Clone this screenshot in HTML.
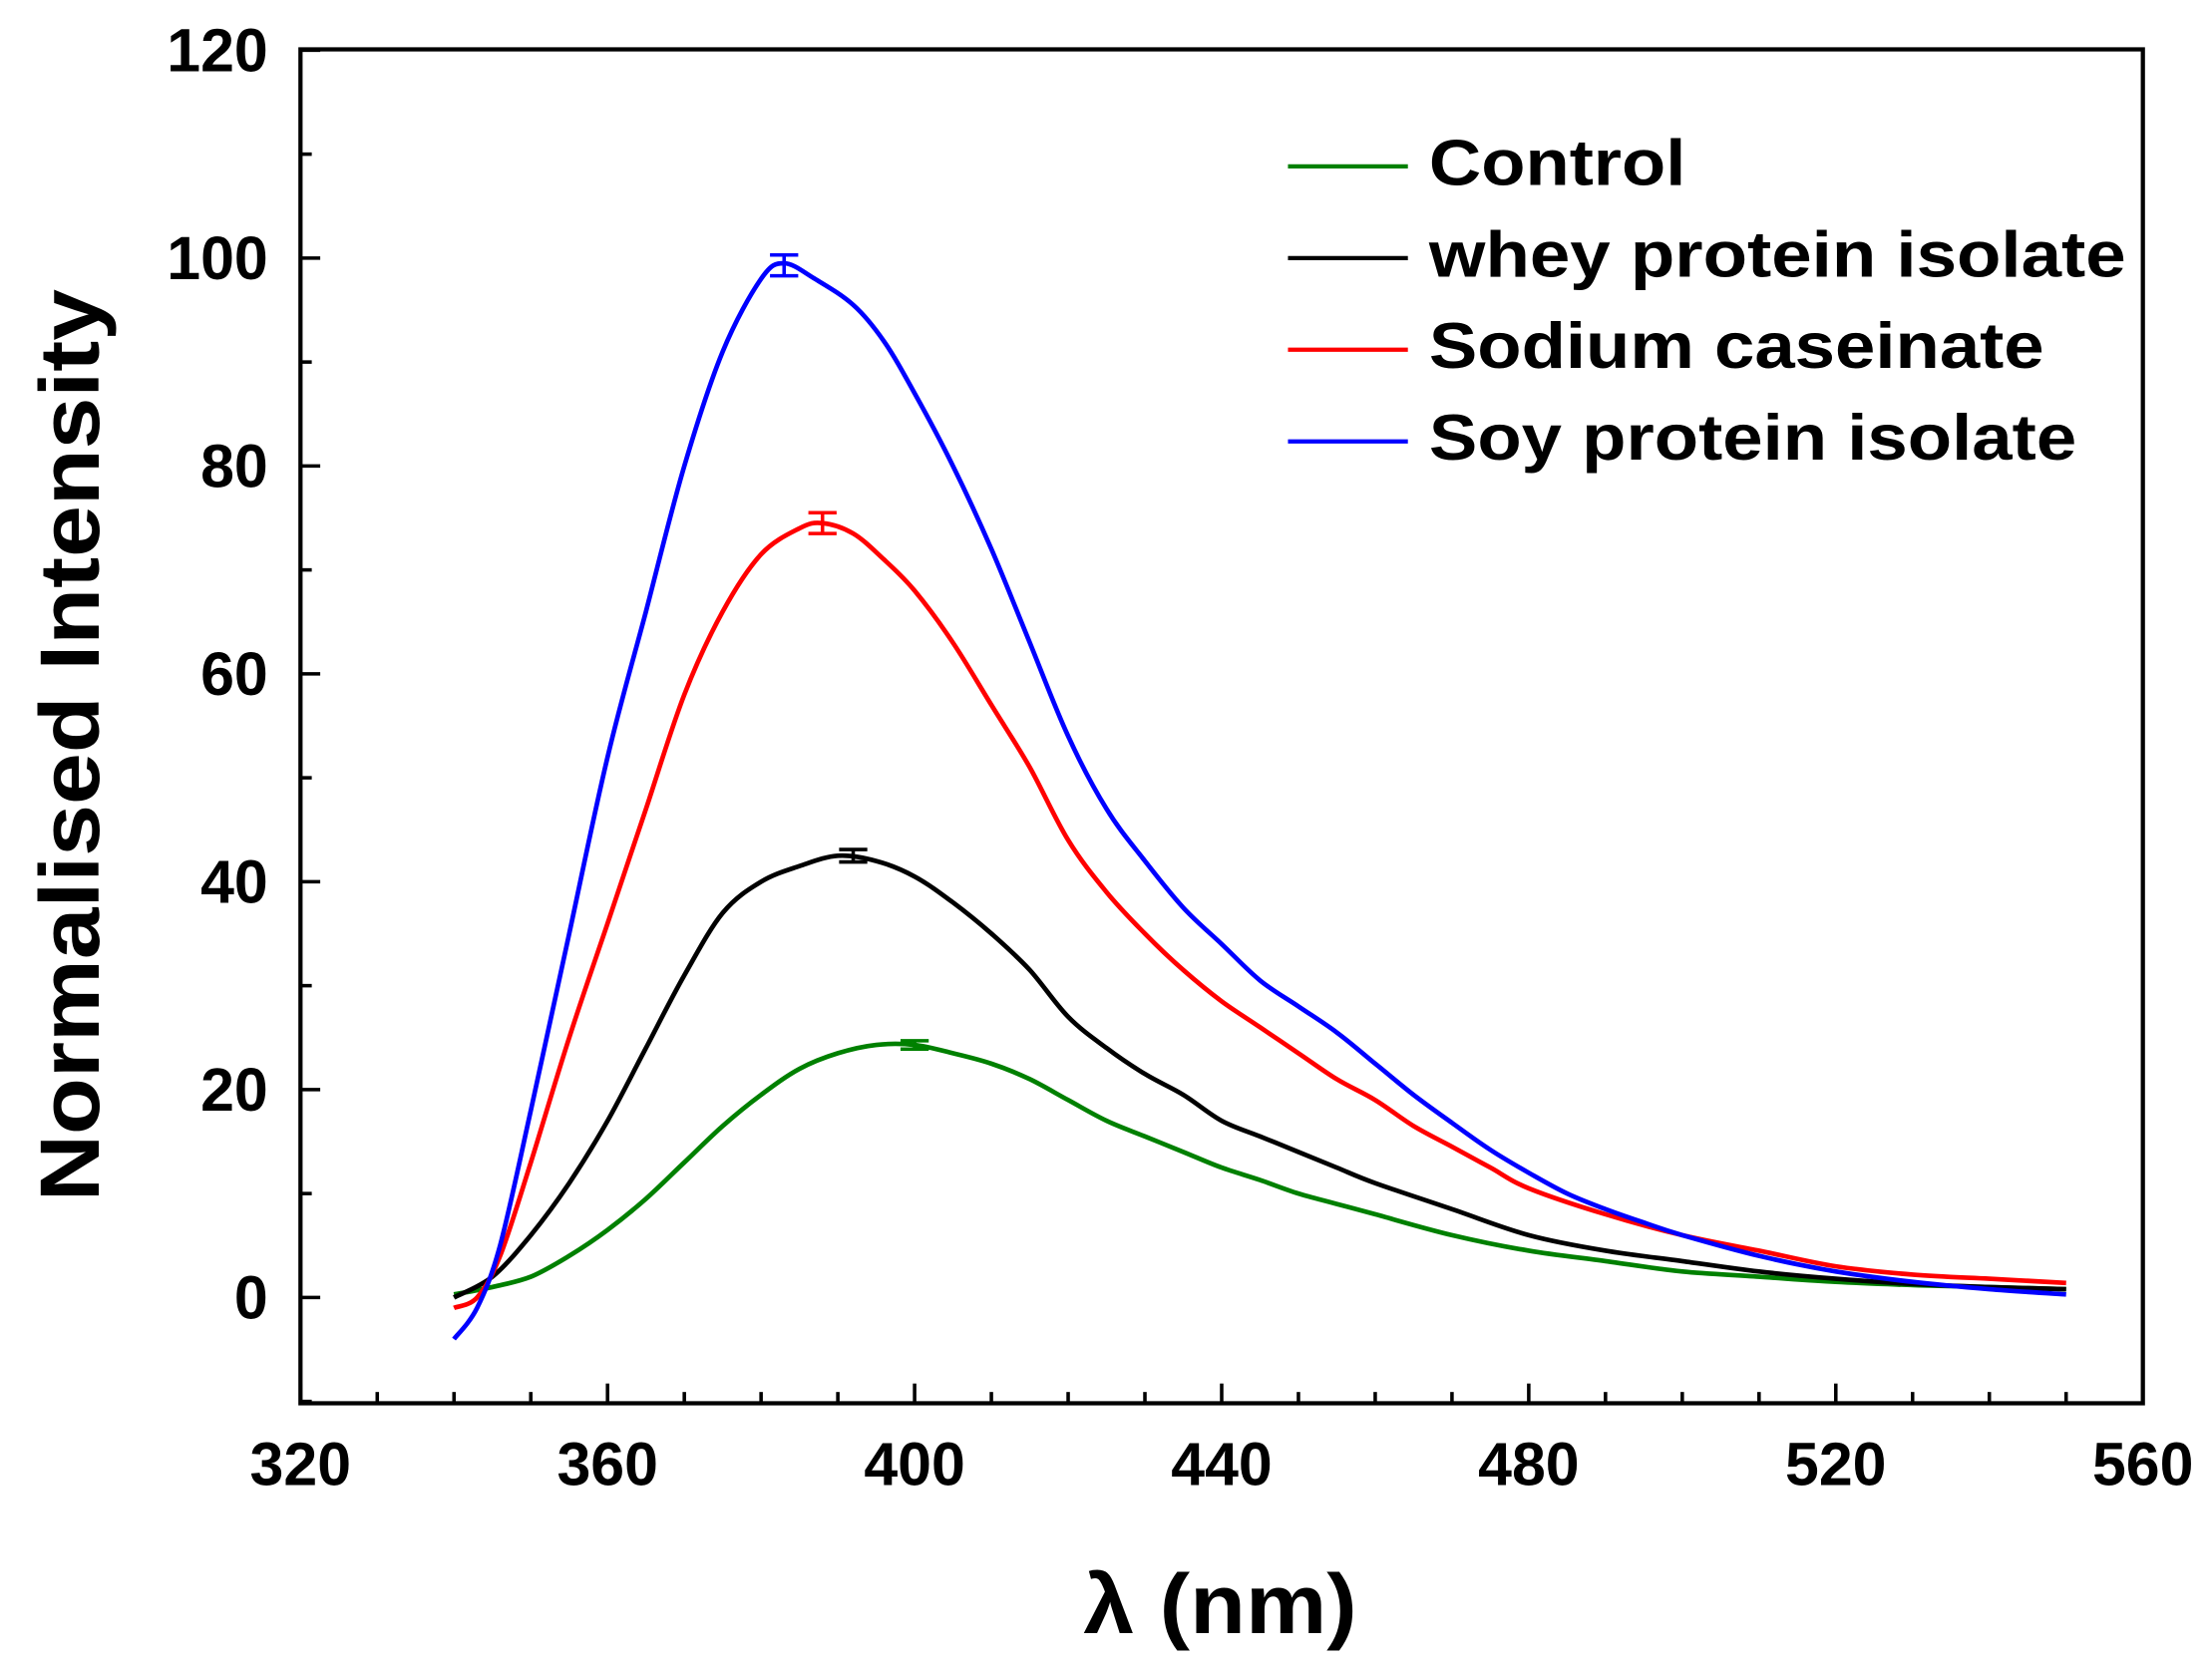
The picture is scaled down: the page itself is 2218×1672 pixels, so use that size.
<!DOCTYPE html>
<html><head><meta charset="utf-8"><style>
html,body{margin:0;padding:0;background:#fff;}
svg{display:block;}
text{font-family:"Liberation Sans",Arial,sans-serif;font-weight:bold;fill:#000;}
</style></head><body>
<svg id="s" width="2218" height="1672" viewBox="0 0 1568 1182" preserveAspectRatio="none" xmlns="http://www.w3.org/2000/svg">
<rect x="213" y="35" width="1306" height="960" fill="none" stroke="#000" stroke-width="3"/>
<g id="ticks" stroke="#000" stroke-width="2.5"></g>
<g id="labels" font-size="43"></g>
<text x="768" y="1158" font-size="60" textLength="194" lengthAdjust="spacingAndGlyphs">λ (nm)</text>
<text transform="translate(70,852) rotate(-90)" font-size="60" textLength="647" lengthAdjust="spacingAndGlyphs">Normalised Intensity</text>
<g id="curves" fill="none" stroke-width="3.3"></g>
<g font-size="46">
<line x1="913" y1="118" x2="998" y2="118" stroke="#008000" stroke-width="3"/><text x="1013" y="131" textLength="182" lengthAdjust="spacingAndGlyphs">Control</text>
<line x1="913" y1="183" x2="998" y2="183" stroke="#000" stroke-width="3"/><text x="1013" y="196" textLength="494" lengthAdjust="spacingAndGlyphs">whey protein isolate</text>
<line x1="913" y1="248" x2="998" y2="248" stroke="#ff0000" stroke-width="3"/><text x="1013" y="261" textLength="436" lengthAdjust="spacingAndGlyphs">Sodium caseinate</text>
<line x1="913" y1="313" x2="998" y2="313" stroke="#0000ff" stroke-width="3"/><text x="1013" y="326" textLength="459" lengthAdjust="spacingAndGlyphs">Soy protein isolate</text>
</g>
</svg>
<script>
var X=function(v){return 213+(v-320)*1306/240;};
var Y=function(v){return 920-v*7.37;};
var ns="http://www.w3.org/2000/svg";
function el(p,t,a){var e=document.createElementNS(ns,t);for(var k in a)e.setAttribute(k,a[k]);p.appendChild(e);return e;}
var tk=document.getElementById("ticks"),lb=document.getElementById("labels");
for(var v=320;v<=560;v+=10){var maj=v%40==0,x=X(v);el(tk,"line",{x1:x,x2:x,y1:995,y2:995-(maj?14:8)});
 if(maj){var t=el(lb,"text",{x:x,y:1053,"text-anchor":"middle"});t.textContent=v;}}
for(var v=-10;v<=120;v+=10){var maj=v%20==0&&v>=0,y=Y(v);el(tk,"line",{x1:213,x2:213+(maj?14:8),y1:y,y2:y});
 if(maj){var t=el(lb,"text",{x:190,y:y+15,"text-anchor":"end"});t.textContent=v;}}
var D={
"#0000ff":[[340,-4],[343,-1],[346,5],[350,18],[355,35],[360,52],[365,66],[370,80],[375,91],[380,98],[383,99.5],[387,98],[392,95.5],[396,92],[400,87],[405,80],[410,72],[415,63],[420,54],[425,47],[430,42],[435,37.5],[440,34],[445,30.5],[450,28],[455,25.5],[460,22.5],[465,19.5],[470,16.8],[475,14.2],[480,12],[485,10],[490,8.5],[495,7.2],[500,6],[510,4],[520,2.5],[530,1.5],[540,0.8],[550,0.3]],
"#ff0000":[[340,-1],[343,0],[346,4],[350,13],[355,25],[360,36],[365,47],[370,58],[375,66],[380,71.5],[385,74],[388,74.5],[392,73.5],[396,71],[400,68],[405,63],[410,57],[415,51],[420,44],[425,39],[430,35],[435,31.5],[440,28.5],[445,26],[450,23.5],[455,21],[460,19],[465,16.5],[470,14.5],[475,12.5],[480,10.5],[490,8],[500,6],[510,4.5],[520,3],[530,2.2],[540,1.8],[550,1.4]],
"#000000":[[340,0],[345,2],[350,6],[355,11],[360,17],[365,24],[370,31],[375,37],[380,40],[385,41.5],[390,42.5],[395,42],[400,40.5],[405,38],[410,35],[415,31.5],[420,27],[425,24],[430,21.5],[435,19.5],[440,17],[445,15.5],[450,14],[455,12.5],[460,11],[470,8.5],[480,6],[490,4.5],[500,3.5],[510,2.5],[520,1.8],[530,1.3],[540,1],[550,0.8]],
"#008000":[[340,0.3],[345,1],[350,2],[355,4],[360,6.5],[365,9.5],[370,13],[375,16.5],[380,19.5],[385,22],[390,23.5],[395,24.3],[400,24.3],[405,23.5],[410,22.5],[415,21],[420,19],[425,17],[430,15.5],[435,14],[440,12.5],[445,11.3],[450,10],[455,9],[460,8],[470,6],[480,4.5],[490,3.5],[500,2.5],[510,2],[520,1.5],[530,1.2],[540,1],[550,0.8]]};
function smooth(pts){
 var p=pts.map(function(a){return [X(a[0]),Y(a[1])];});
 var d="M"+p[0][0].toFixed(1)+","+p[0][1].toFixed(1);
 for(var i=0;i<p.length-1;i++){
  var p0=p[i-1]||p[i],p1=p[i],p2=p[i+1],p3=p[i+2]||p2;
  var c1=[p1[0]+(p2[0]-p0[0])/6,p1[1]+(p2[1]-p0[1])/6];
  var c2=[p2[0]-(p3[0]-p1[0])/6,p2[1]-(p3[1]-p1[1])/6];
  d+="C"+c1[0].toFixed(1)+","+c1[1].toFixed(1)+" "+c2[0].toFixed(1)+","+c2[1].toFixed(1)+" "+p2[0].toFixed(1)+","+p2[1].toFixed(1);
 }
 return d;
}
var cg=document.getElementById("curves");
var err={"#0000ff":[383,99.3,1],"#ff0000":[388,74.5,1],"#000000":[392,42.5,0.6],"#008000":[400,24.3,0.4]};
["#008000","#000000","#ff0000","#0000ff"].forEach(function(c){
 el(cg,"path",{d:smooth(D[c]),stroke:c,"stroke-linejoin":"round"});
 var e=err[c],x=X(e[0]);
 el(cg,"path",{d:"M"+(x-10)+","+Y(e[1]+e[2])+"h20M"+x+","+Y(e[1]+e[2])+"V"+Y(e[1]-e[2])+"M"+(x-10)+","+Y(e[1]-e[2])+"h20",stroke:c,"stroke-width":2.5});
});
</script>
</body></html>
